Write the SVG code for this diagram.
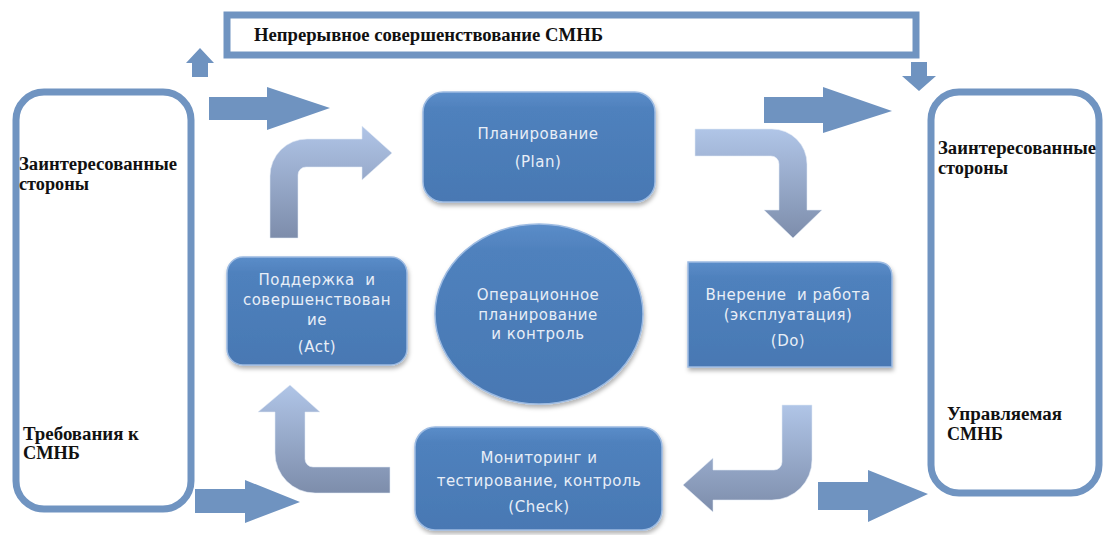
<svg xmlns="http://www.w3.org/2000/svg" width="1105" height="535" viewBox="0 0 1105 535">
<defs>
<style>
.frame{fill:#fff;stroke:#7094c1;stroke-width:7}
.blk{fill:#6f93c0}
.crv{fill:url(#gCurve);stroke:#e3ebf6;stroke-width:1;stroke-opacity:.55}
.node{fill:url(#gNode);stroke:#9dbbe2;stroke-width:1.5;filter:url(#shadow)}
.nt{font-family:"DejaVu Sans",Verdana,sans-serif;font-size:15px;fill:#e8eef7;text-anchor:middle;letter-spacing:0.5px;white-space:pre}
.lt{font-family:"Liberation Serif","Times New Roman",serif;font-size:18px;font-weight:bold;fill:#111}
</style>
<linearGradient id="gCurve" x1="0" y1="0" x2="0" y2="1">
<stop offset="0" stop-color="#b0c5e7"/>
<stop offset="1" stop-color="#7d8dab"/>
</linearGradient>
<linearGradient id="gNode" x1="0" y1="0" x2="0" y2="1">
<stop offset="0" stop-color="#5b8dc9"/>
<stop offset="0.15" stop-color="#4f81bd"/>
<stop offset="1" stop-color="#4878b3"/>
</linearGradient>
<filter id="shadow" x="-10%" y="-10%" width="125%" height="130%">
<feDropShadow dx="1" dy="3" stdDeviation="2" flood-color="#000" flood-opacity="0.3"/>
</filter>
</defs>
<rect width="1105" height="535" fill="#fff"/>

<g id="title">
<rect class="frame" x="227" y="15" width="689" height="40"/>
<text class="lt" x="254" y="41" textLength="349" lengthAdjust="spacingAndGlyphs">Непрерывное совершенствование СМНБ</text>
</g>

<g id="left-box">
<rect class="frame" x="16" y="92" width="175" height="417" rx="28"/>
<text class="lt" x="19" y="170" textLength="158" lengthAdjust="spacingAndGlyphs">Заинтересованные</text>
<text class="lt" x="19" y="190" textLength="70" lengthAdjust="spacingAndGlyphs">стороны</text>
<text class="lt" x="23" y="440" textLength="116" lengthAdjust="spacingAndGlyphs">Требования к</text>
<text class="lt" x="23" y="459" textLength="57" lengthAdjust="spacingAndGlyphs">СМНБ</text>
</g>

<g id="right-box">
<rect class="frame" x="931" y="92" width="168" height="401" rx="28"/>
<text class="lt" x="938" y="154" textLength="158" lengthAdjust="spacingAndGlyphs">Заинтересованные</text>
<text class="lt" x="938" y="174" textLength="70" lengthAdjust="spacingAndGlyphs">стороны</text>
<text class="lt" x="947" y="420" textLength="115" lengthAdjust="spacingAndGlyphs">Управляемая</text>
<text class="lt" x="947" y="440" textLength="56" lengthAdjust="spacingAndGlyphs">СМНБ</text>
</g>

<g id="plan">
<rect class="node" x="423" y="92" width="232" height="110" rx="20"/>
<text class="nt" x="538" y="139">Планирование</text>
<text class="nt" x="538" y="167">(Plan)</text>
</g>

<g id="do">
<path class="node" d="M688,262 H877 Q892,262 892,277 V367 H688 Z"/>
<text class="nt" x="788" y="300" xml:space="preserve">Внерение  и работа</text>
<text class="nt" x="788" y="320">(эксплуатация)</text>
<text class="nt" x="788" y="346">(Do)</text>
</g>

<g id="check">
<rect class="node" x="415" y="427" width="247" height="103" rx="20"/>
<text class="nt" x="539" y="463">Мониторинг и</text>
<text class="nt" x="539" y="486">тестирование, контроль</text>
<text class="nt" x="539" y="512">(Check)</text>
</g>

<g id="act">
<rect class="node" x="227" y="257" width="180" height="108" rx="16"/>
<text class="nt" x="317" y="285" xml:space="preserve">Поддержка  и</text>
<text class="nt" x="317" y="305">совершенствован</text>
<text class="nt" x="317" y="325">ие</text>
<text class="nt" x="317" y="352">(Act)</text>
</g>

<g id="operational">
<ellipse class="node" cx="539" cy="314" rx="104" ry="90"/>
<text class="nt" x="538" y="300">Операционное</text>
<text class="nt" x="538" y="320">планирование</text>
<text class="nt" x="538" y="339">и контроль</text>
</g>

<g id="connectors">
<path class="blk" d="M192,77 V63 H186 L200,48 L214,63 H208 V77 Z"/>
<path class="blk" d="M911,62 H927 V76 H936 L919,91 L902,76 H911 Z"/>
<path class="blk" d="M209,97 H267 V87 L330,108 L267,130 V120 H209 Z"/>
<path class="blk" d="M764,97 H823 V87 L892,111 L823,133 V123 H764 Z"/>
<path class="blk" d="M195,489 H245 V480 L300,502 L245,523 V513 H195 Z"/>
<path class="blk" d="M818,482 H868 V470 L928,494 L868,522 V510 H818 Z"/>
<path class="crv" d="M270,238 V176 A37,37 0 0 1 307,139 H362 V126 L392,153 L362,180 V167 H306 A8,8 0 0 0 298,175 V238 Z"/>
<path class="crv" d="M695,129 H772 A35,35 0 0 1 807,164 V210 H822 L793,238 L764,210 H779 V164 A8,8 0 0 0 771,156 H695 Z"/>
<path class="crv" d="M782,405 H812 V460 A40,40 0 0 1 772,500 H713 V512 L683,485 L713,458 V470 H774 A8,8 0 0 0 782,462 Z"/>
<path class="crv" d="M390,467 H313 A8,8 0 0 1 305,459 V412 H320 L290,385 L258,412 H275 V453 A40,40 0 0 0 315,493 H390 Z"/>
</g>
</svg>
